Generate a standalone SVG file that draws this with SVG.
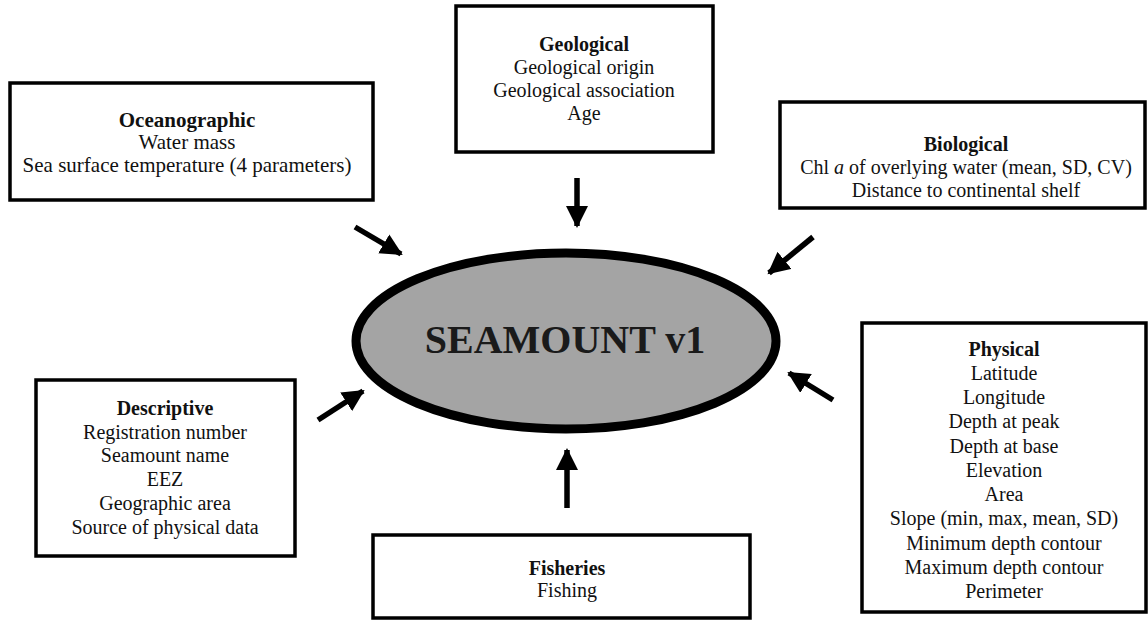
<svg xmlns="http://www.w3.org/2000/svg" width="1148" height="620" viewBox="0 0 1148 620">
<style>
.box{fill:#fff;stroke:#000;stroke-width:3.5}
text{font-family:"Liberation Serif","Times New Roman",serif;font-size:20px;fill:#111;text-anchor:middle}
.h{font-weight:bold}
.arr{stroke:#000;stroke-width:5.5;fill:none;marker-end:url(#ah)}
</style>
<defs>
<marker id="ah" markerUnits="userSpaceOnUse" markerWidth="24" markerHeight="22" refX="20" refY="11" orient="auto">
<path d="M0,0 L22,11 L0,22 Z" fill="#000"/>
</marker>
</defs>
<rect width="1148" height="620" fill="#fff"/>
<g id="connectors">
<line class="arr" x1="355" y1="227" x2="401" y2="254"/>
<line class="arr" x1="577" y1="178" x2="577" y2="226"/>
<line class="arr" x1="813" y1="237" x2="769" y2="273"/>
<line class="arr" x1="833" y1="400" x2="789" y2="373"/>
<line class="arr" x1="318" y1="420" x2="363" y2="391"/>
<line class="arr" x1="567" y1="508" x2="567" y2="450"/>
</g>
<g id="seamount">
<ellipse cx="566" cy="341" rx="210" ry="88" fill="#a4a4a4" stroke="#000" stroke-width="9"/>
<text x="565" y="353" class="h" style="font-size:40px;fill:#1a1a1a">SEAMOUNT v1</text>
</g>
<g id="oceanographic">
<rect class="box" x="10" y="83" width="363" height="117"/>
<text x="187" y="127" class="h" style="font-size:21px">Oceanographic</text>
<text x="187" y="149" style="font-size:21px">Water mass</text>
<text x="187" y="172" style="font-size:21px">Sea surface temperature (4 parameters)</text>
</g>
<g id="geological">
<rect class="box" x="456" y="6" width="257" height="146"/>
<text x="584" y="51" class="h">Geological</text>
<text x="584" y="74">Geological origin</text>
<text x="584" y="97">Geological association</text>
<text x="584" y="120">Age</text>
</g>
<g id="biological">
<rect class="box" x="780" y="102" width="365" height="106"/>
<text x="966" y="151" class="h">Biological</text>
<text x="966" y="174">Chl <tspan font-style="italic">a</tspan> of overlying water (mean, SD, CV)</text>
<text x="966" y="197">Distance to continental shelf</text>
</g>
<g id="physical">
<rect class="box" x="862" y="323" width="284" height="289"/>
<text x="1004" y="356" class="h">Physical</text>
<text x="1004" y="380">Latitude</text>
<text x="1004" y="404">Longitude</text>
<text x="1004" y="428">Depth at peak</text>
<text x="1004" y="453">Depth at base</text>
<text x="1004" y="477">Elevation</text>
<text x="1004" y="501">Area</text>
<text x="1004" y="525">Slope (min, max, mean, SD)</text>
<text x="1004" y="550">Minimum depth contour</text>
<text x="1004" y="574">Maximum depth contour</text>
<text x="1004" y="598">Perimeter</text>
</g>
<g id="descriptive">
<rect class="box" x="36" y="380" width="259" height="176"/>
<text x="165" y="415" class="h">Descriptive</text>
<text x="165" y="439">Registration number</text>
<text x="165" y="462">Seamount name</text>
<text x="165" y="486">EEZ</text>
<text x="165" y="510">Geographic area</text>
<text x="165" y="534">Source of physical data</text>
</g>
<g id="fisheries">
<rect class="box" x="373" y="535" width="377" height="83"/>
<text x="567" y="575" class="h">Fisheries</text>
<text x="567" y="597">Fishing</text>
</g>
</svg>
